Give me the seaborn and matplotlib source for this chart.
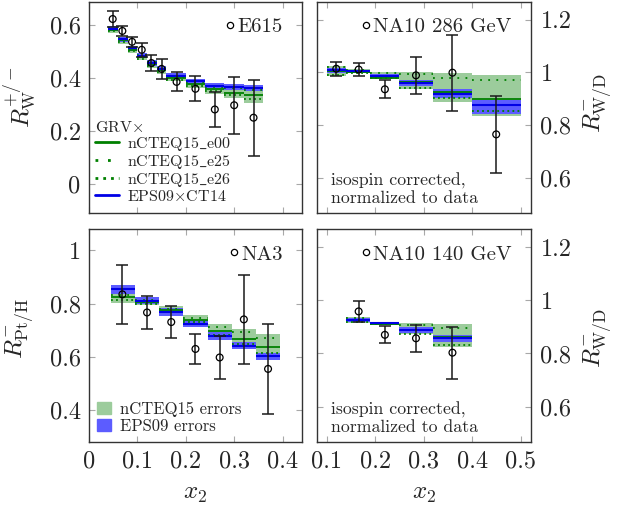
import numpy as np
import matplotlib
matplotlib.use("Agg")
import matplotlib.pyplot as plt
import matplotlib.ticker as mticker
from matplotlib.lines import Line2D
from matplotlib.patches import Patch
import seaborn as sns

sns.set_style("ticks")
plt.rcParams['font.family'] = 'serif'
plt.rcParams['font.serif'] = ['cmr10', 'DejaVu Serif']
plt.rcParams['mathtext.fontset'] = 'cm'
plt.rcParams['axes.formatter.use_mathtext'] = True
plt.rcParams['axes.unicode_minus'] = False

GREEN_FILL = '#9ccc9c'
BLUE_FILL = '#5c5cff'
GREEN_LINE = '#008000'
BLUE_LINE = '#0000e6'

# ---- E615 (R_W^{+/-}) ----
e615_edges = [0.04, 0.06, 0.08, 0.10, 0.12, 0.14, 0.16, 0.20, 0.24, 0.28, 0.32, 0.36]
e615_blue = [0.584, 0.545, 0.510, 0.483, 0.455, 0.434, 0.407, 0.386, 0.370, 0.365, 0.360]
e615_blue_lo = [0.574, 0.535, 0.500, 0.473, 0.445, 0.424, 0.397, 0.376, 0.360, 0.354, 0.348]
e615_blue_hi = [0.594, 0.555, 0.520, 0.493, 0.465, 0.444, 0.417, 0.396, 0.380, 0.376, 0.372]
e615_e00 = [0.580, 0.541, 0.506, 0.479, 0.450, 0.428, 0.400, 0.376, 0.356, 0.342, 0.334]
e615_e25 = [0.588, 0.549, 0.514, 0.487, 0.458, 0.437, 0.403, 0.382, 0.366, 0.360, 0.354]
e615_e26 = [0.575, 0.536, 0.500, 0.472, 0.443, 0.420, 0.392, 0.368, 0.349, 0.334, 0.320]
e615_green_lo = [0.568, 0.528, 0.492, 0.465, 0.436, 0.414, 0.386, 0.362, 0.340, 0.322, 0.304]
e615_green_hi = [0.594, 0.554, 0.519, 0.492, 0.462, 0.441, 0.412, 0.391, 0.375, 0.371, 0.368]
e615_x = [0.049, 0.069, 0.089, 0.109, 0.129, 0.150, 0.181, 0.220, 0.260, 0.300, 0.340]
e615_y = [0.621, 0.576, 0.535, 0.505, 0.455, 0.433, 0.384, 0.358, 0.280, 0.296, 0.249]
e615_err = [0.030, 0.020, 0.020, 0.026, 0.030, 0.038, 0.036, 0.047, 0.066, 0.108, 0.143]

# ---- NA10 286 GeV (R_W/D^-) ----
na10a_edges = [0.10, 0.14, 0.19, 0.25, 0.32, 0.40, 0.50]
na10a_blue = [1.009, 1.005, 0.986, 0.961, 0.920, 0.875]
na10a_blue_lo = [0.999, 0.998, 0.978, 0.950, 0.902, 0.842]
na10a_blue_hi = [1.018, 1.011, 0.994, 0.972, 0.936, 0.895]
na10a_e00 = [1.006, 1.003, 0.980, 0.964, 0.927, 0.898]
na10a_e25 = [1.020, 1.008, 0.996, 0.994, 0.980, 0.971]
na10a_e26 = [0.992, 0.998, 0.977, 0.942, 0.904, 0.854]
na10a_green_lo = [0.986, 0.996, 0.974, 0.936, 0.886, 0.833]
na10a_green_hi = [1.024, 1.012, 1.001, 1.001, 0.996, 0.992]
na10a_x = [0.120, 0.166, 0.220, 0.284, 0.359, 0.449]
na10a_y = [1.014, 1.011, 0.936, 0.989, 0.999, 0.765]
na10a_err = [0.026, 0.024, 0.034, 0.069, 0.144, 0.145]

# ---- NA3 (R_Pt/H^-) ----
na3_edges = [0.045, 0.095, 0.145, 0.195, 0.245, 0.295, 0.345, 0.395]
na3_blue = [0.856, 0.811, 0.769, 0.724, 0.678, 0.641, 0.602]
na3_blue_lo = [0.838, 0.797, 0.755, 0.711, 0.665, 0.628, 0.589]
na3_blue_hi = [0.871, 0.826, 0.784, 0.738, 0.692, 0.655, 0.616]
na3_e00 = [0.827, 0.806, 0.775, 0.739, 0.696, 0.666, 0.636]
na3_e25 = [0.832, 0.812, 0.781, 0.747, 0.712, 0.694, 0.672]
na3_e26 = [0.814, 0.800, 0.768, 0.730, 0.684, 0.650, 0.616]
na3_green_lo = [0.804, 0.795, 0.762, 0.722, 0.666, 0.628, 0.587]
na3_green_hi = [0.840, 0.818, 0.790, 0.756, 0.725, 0.706, 0.687]
na3_x = [0.069, 0.120, 0.170, 0.220, 0.270, 0.320, 0.370]
na3_y = [0.835, 0.767, 0.731, 0.630, 0.598, 0.741, 0.555]
na3_err = [0.112, 0.062, 0.060, 0.057, 0.081, 0.168, 0.170]

# ---- NA10 140 GeV (R_W/D^-) ----
na10b_edges = [0.14, 0.19, 0.25, 0.32, 0.40]
na10b_blue = [0.927, 0.913, 0.889, 0.858]
na10b_blue_lo = [0.920, 0.908, 0.878, 0.842]
na10b_blue_hi = [0.934, 0.918, 0.898, 0.870]
na10b_e00 = [0.925, 0.912, 0.890, 0.862]
na10b_e25 = [0.935, 0.915, 0.908, 0.897]
na10b_e26 = [0.918, 0.909, 0.875, 0.833]
na10b_green_lo = [0.913, 0.906, 0.873, 0.826]
na10b_green_hi = [0.938, 0.918, 0.913, 0.910]
na10b_x = [0.166, 0.220, 0.284, 0.359]
na10b_y = [0.958, 0.870, 0.857, 0.803]
na10b_err = [0.040, 0.032, 0.051, 0.098]

DOT_E25 = (0, (1, 3.5))
DOT_E26 = (0, (1, 1.8))


def step(vals):
    return list(vals) + [vals[-1]]


def draw_panel(ax, edges, blue, blue_lo, blue_hi, e00, e25, e26, g_lo, g_hi, x, y, err, name):
    lefts, rights = edges[:-1], edges[1:]
    ax.fill_between(edges, step(g_lo), step(g_hi), step='post', color=GREEN_FILL, lw=0, zorder=1)
    ax.fill_between(edges, step(blue_lo), step(blue_hi), step='post', color=BLUE_FILL, lw=0, zorder=2)
    ax.hlines(e00, lefts, rights, color=GREEN_LINE, lw=1.3, zorder=3)
    ax.hlines(e25, lefts, rights, color=GREEN_LINE, lw=1.3, linestyles=[DOT_E25], zorder=3)
    ax.hlines(e26, lefts, rights, color=GREEN_LINE, lw=1.3, linestyles=[DOT_E26], zorder=3)
    ax.hlines(blue, lefts, rights, color=BLUE_LINE, lw=1.5, zorder=4)
    ax.errorbar(x, y, yerr=err, fmt='none', ecolor='#1a1a1a', elinewidth=1.1,
                capsize=4.2, capthick=1.1, zorder=5)
    sns.scatterplot(x=x, y=y, ax=ax, marker='o', s=24, color='none',
                    edgecolor='black', linewidth=0.9, zorder=6)
    h = Line2D([], [], marker='o', ls='none', mfc='none', mec='k', ms=4.5, mew=0.9)
    leg = ax.legend([h], [name], loc='upper right', bbox_to_anchor=(0.955, 0.97),
                    frameon=False, fontsize=15, handlelength=0.6, handletextpad=0.05,
                    borderaxespad=0.25, borderpad=0.2)
    return leg


def style_axes(ax, right=False):
    for s in ax.spines.values():
        s.set_color('#333333')
        s.set_linewidth(1.0)
    ax.tick_params(direction='in', length=4, width=0.8, color='#a8a8a8',
                   top=True, right=True, left=True, bottom=True, labelsize=17.5, pad=6)
    ax.xaxis.set_major_formatter(mticker.FuncFormatter(lambda v, p: f"{v:g}"))
    ax.yaxis.set_major_formatter(mticker.FuncFormatter(lambda v, p: f"{v:g}"))
    if right:
        ax.yaxis.tick_right()
        ax.yaxis.set_label_position('right')
        ax.tick_params(axis='y', left=True, right=True, pad=7)


fig = plt.figure(figsize=(6.2, 5.07), dpi=100)
ax_tl = fig.add_axes([0.1435, 0.580, 0.3435, 0.416])
ax_tr = fig.add_axes([0.511, 0.580, 0.345, 0.416])
ax_bl = fig.add_axes([0.1435, 0.128, 0.3435, 0.420])
ax_br = fig.add_axes([0.511, 0.128, 0.345, 0.420])

leg_tl = draw_panel(ax_tl, e615_edges, e615_blue, e615_blue_lo, e615_blue_hi, e615_e00, e615_e25,
                    e615_e26, e615_green_lo, e615_green_hi, e615_x, e615_y, e615_err, 'E615')
draw_panel(ax_tr, na10a_edges, na10a_blue, na10a_blue_lo, na10a_blue_hi, na10a_e00, na10a_e25,
           na10a_e26, na10a_green_lo, na10a_green_hi, na10a_x, na10a_y, na10a_err, 'NA10 286 GeV')
leg_bl = draw_panel(ax_bl, na3_edges, na3_blue, na3_blue_lo, na3_blue_hi, na3_e00, na3_e25,
                    na3_e26, na3_green_lo, na3_green_hi, na3_x, na3_y, na3_err, 'NA3')
draw_panel(ax_br, na10b_edges, na10b_blue, na10b_blue_lo, na10b_blue_hi, na10b_e00, na10b_e25,
           na10b_e26, na10b_green_lo, na10b_green_hi, na10b_x, na10b_y, na10b_err, 'NA10 140 GeV')

# theory legend (top-left)
theory_handles = [Line2D([], [], color=GREEN_LINE, lw=2),
                  Line2D([], [], color=GREEN_LINE, lw=2, ls=DOT_E25),
                  Line2D([], [], color=GREEN_LINE, lw=2, ls=DOT_E26),
                  Line2D([], [], color=BLUE_LINE, lw=2)]
theory_labels = ['nCTEQ15$\\_$e00', 'nCTEQ15$\\_$e25', 'nCTEQ15$\\_$e26', 'EPS09$\\times$CT14']
ax_tl.add_artist(leg_tl)
ax_tl.legend(theory_handles, theory_labels, title='GRV$\\times$', title_fontsize=11.5,
             alignment='left', loc='lower left', bbox_to_anchor=(0.03, 0.043), frameon=False,
             fontsize=11.5, handlelength=1.5, handletextpad=0.5, labelspacing=0.0,
             borderpad=0, borderaxespad=0)

# error legend (bottom-left)
ax_bl.add_artist(leg_bl)
ax_bl.legend([Patch(color=GREEN_FILL), Patch(color=BLUE_FILL)],
             ['nCTEQ15 errors', 'EPS09 errors'], loc='lower left',
             bbox_to_anchor=(0.04, 0.038), frameon=False, fontsize=12,
             handlelength=0.8, handleheight=0.75, handletextpad=0.55, labelspacing=0.1,
             borderpad=0, borderaxespad=0)

for ax in (ax_tr, ax_br):
    ax.text(0.065, 0.033, 'isospin corrected,\nnormalized to data', transform=ax.transAxes,
            fontsize=12.8, ha='left', va='bottom', linespacing=1.15)

# limits and ticks
ax_tl.set_xlim(0, 0.44)
ax_tl.set_ylim(-0.11, 0.685)
ax_tl.set_xticks([0, 0.1, 0.2, 0.3, 0.4])
ax_tl.set_yticks([0, 0.2, 0.4, 0.6])
ax_bl.set_xlim(0, 0.44)
ax_bl.set_ylim(0.28, 1.08)
ax_bl.set_xticks([0, 0.1, 0.2, 0.3, 0.4])
ax_bl.set_yticks([0.4, 0.6, 0.8, 1.0])
for ax in (ax_tr, ax_br):
    ax.set_xlim(0.08, 0.52)
    ax.set_ylim(0.467, 1.267)
    ax.set_xticks([0.1, 0.2, 0.3, 0.4, 0.5])
    ax.set_yticks([0.6, 0.8, 1.0, 1.2])

style_axes(ax_tl)
style_axes(ax_bl)
style_axes(ax_tr, right=True)
style_axes(ax_br, right=True)
ax_tl.tick_params(axis='x', labelbottom=False)
ax_tr.tick_params(axis='x', labelbottom=False)

ax_tl.set_ylabel('$R_{\\mathrm{W}}^{+/-}$', fontsize=18)
ax_bl.set_ylabel('$R_{\\mathrm{Pt/H}}^{-}$', fontsize=18)
ax_tr.set_ylabel('$R_{\\mathrm{W/D}}^{-}$', fontsize=18)
ax_br.set_ylabel('$R_{\\mathrm{W/D}}^{-}$', fontsize=18)
ax_tl.yaxis.set_label_coords(-0.245, 0.55)
ax_bl.yaxis.set_label_coords(-0.245, 0.535)
ax_tr.yaxis.set_label_coords(1.24, 0.52)
ax_br.yaxis.set_label_coords(1.24, 0.49)

ax_bl.set_xlabel('$x_2$', fontsize=18)
ax_br.set_xlabel('$x_2$', fontsize=18)
ax_bl.xaxis.set_label_coords(0.5, -0.19)
ax_br.xaxis.set_label_coords(0.5, -0.19)

fig.savefig('out.png', dpi=100)
